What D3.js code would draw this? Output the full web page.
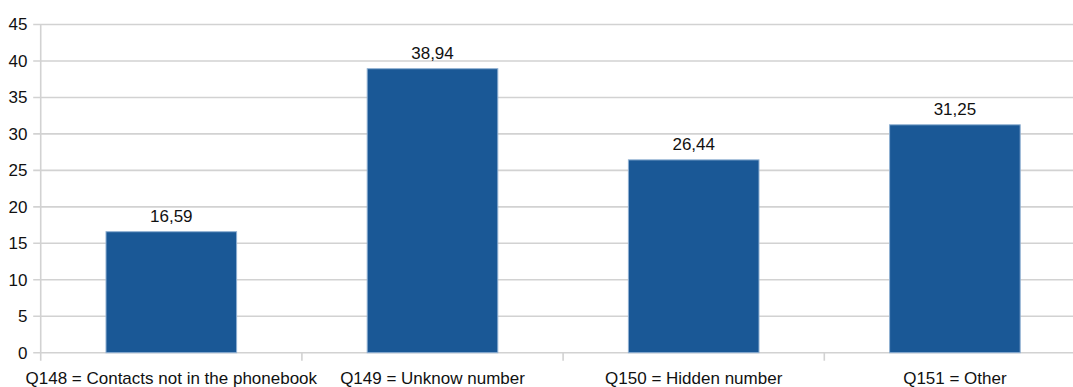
<!DOCTYPE html>
<html>
<head>
<meta charset="utf-8">
<script src="https://cdn.jsdelivr.net/npm/d3@7/dist/d3.min.js"></script>
<style>
  html, body { margin: 0; padding: 0; background: #fff; }
  svg { display: block; }
  text { font-family: "Liberation Sans", Arial, sans-serif; fill: #111; }
</style>
</head>
<body>
<svg id="chart" width="1073" height="387"></svg>
<script>
// Survey answers: share of respondents per question
const categories = [
  "Q148 = Contacts not in the phonebook",
  "Q149 = Unknow number",
  "Q150 = Hidden number",
  "Q151 = Other"
];
const values = [16.59, 38.94, 26.44, 31.25];
const valueLabels = ["16,59", "38,94", "26,44", "31,25"];
const yTicks = [0, 5, 10, 15, 20, 25, 30, 35, 40, 45];

const svg = d3.select("#chart");
const plotLeft = 40.7, plotRight = 1085.5, plotTop = 24.5, plotBottom = 352.7;

const x = d3.scaleBand().domain(categories).range([plotLeft, plotRight]).paddingInner(0).paddingOuter(0);
const y = d3.scaleLinear().domain([0, 45]).range([plotBottom, plotTop]);

const gridColor = "#d2d2d2";

// horizontal grid lines
svg.append("g").selectAll("line").data(yTicks).join("line")
  .attr("x1", plotLeft - 7.5).attr("x2", 1073)
  .attr("y1", d => y(d)).attr("y2", d => y(d))
  .attr("stroke", gridColor).attr("stroke-width", 1.6);

// y axis line
svg.append("line")
  .attr("x1", plotLeft).attr("x2", plotLeft)
  .attr("y1", y(45)).attr("y2", plotBottom + 8)
  .attr("stroke", gridColor).attr("stroke-width", 1.6);

// x category boundary ticks
const bounds = categories.map(c => x(c)).concat([x(categories[categories.length - 1]) + x.bandwidth()]);
svg.append("g").selectAll("line").data(bounds.slice(1)).join("line")
  .attr("x1", d => d).attr("x2", d => d)
  .attr("y1", plotBottom).attr("y2", plotBottom + 8)
  .attr("stroke", gridColor).attr("stroke-width", 1.6);

// y tick labels
svg.append("g").selectAll("text").data(yTicks).join("text")
  .attr("x", 27.5).attr("y", d => y(d))
  .attr("dy", "0.35em")
  .attr("text-anchor", "end")
  .attr("font-size", "17px")
  .text(d => d);

// bars
const bw = x.bandwidth() * 0.5;
svg.append("g").selectAll("rect").data(values).join("rect")
  .attr("x", (d, i) => x(categories[i]) + x.bandwidth() / 2 - bw / 2)
  .attr("width", bw)
  .attr("y", d => y(d))
  .attr("height", d => plotBottom - y(d))
  .attr("fill", "#1a5896")
  .attr("stroke", "#8fb0d2")
  .attr("stroke-width", 1);

// value labels
svg.append("g").selectAll("text").data(values).join("text")
  .attr("x", (d, i) => x(categories[i]) + x.bandwidth() / 2)
  .attr("y", d => y(d) - 10)
  .attr("text-anchor", "middle")
  .attr("font-size", "17px")
  .text((d, i) => valueLabels[i]);

// category labels
svg.append("g").selectAll("text").data(categories).join("text")
  .attr("x", d => x(d) + x.bandwidth() / 2)
  .attr("y", 383.5)
  .attr("text-anchor", "middle")
  .attr("font-size", "17px")
  .text(d => d);
</script>
</body>
</html>
